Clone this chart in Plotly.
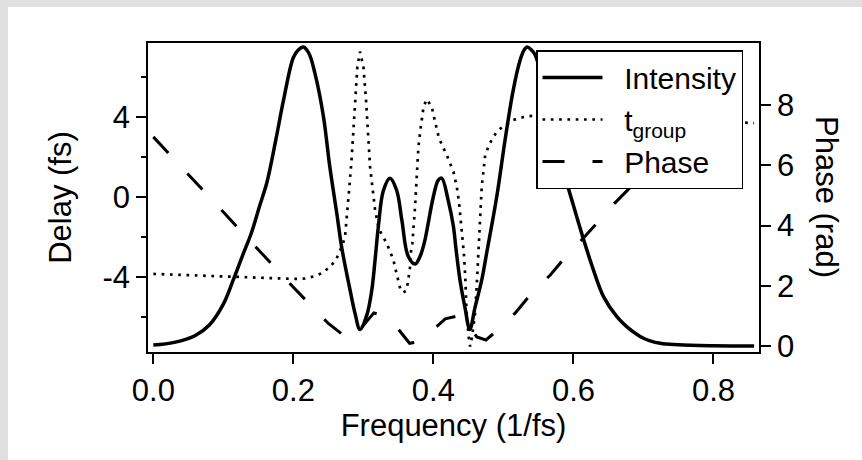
import plotly.graph_objects as go

# Spectral intensity (normalised), sampled along frequency (1/fs)
intensity_freq = [0.000, 0.030, 0.060, 0.080, 0.100, 0.114, 0.127, 0.140, 0.152, 0.162,
                  0.175, 0.186, 0.200, 0.207, 0.2143, 0.222, 0.231, 0.243, 0.252, 0.262,
                  0.269, 0.281, 0.288, 0.2952, 0.305, 0.312, 0.3167, 0.3214, 0.3286, 0.338,
                  0.3476, 0.355, 0.364, 0.374, 0.381, 0.387, 0.400, 0.407, 0.412, 0.421,
                  0.4286, 0.432, 0.438, 0.445, 0.452, 0.4595, 0.469, 0.476, 0.4905, 0.5024,
                  0.514, 0.524, 0.529, 0.534, 0.540, 0.545, 0.556, 0.567, 0.578, 0.590,
                  0.600, 0.612, 0.6286, 0.643, 0.662, 0.676, 0.700, 0.724, 0.750, 0.800,
                  0.858]
intensity_val = [0.003, 0.012, 0.035, 0.070, 0.140, 0.220, 0.300, 0.378, 0.470, 0.545,
                 0.690, 0.823, 0.965, 0.990, 1.000, 0.980, 0.910, 0.767, 0.600, 0.444,
                 0.330, 0.187, 0.110, 0.055, 0.104, 0.187, 0.288, 0.400, 0.520, 0.561,
                 0.520, 0.420, 0.300, 0.274, 0.300, 0.345, 0.500, 0.555, 0.561, 0.488,
                 0.400, 0.330, 0.220, 0.130, 0.055, 0.130, 0.220, 0.310, 0.500, 0.690,
                 0.856, 0.957, 0.988, 1.000, 0.990, 0.975, 0.890, 0.770, 0.660, 0.550,
                 0.470, 0.375, 0.254, 0.165, 0.098, 0.065, 0.026, 0.009, 0.004, 0.001,
                 0.000]

# Group delay (fs)
tgroup_freq = [0.000, 0.050, 0.100, 0.150, 0.200, 0.217, 0.230, 0.2405, 0.2524, 0.261,
               0.2667, 0.2705, 0.2738, 0.2762, 0.280, 0.2834, 0.2867, 0.2896, 0.2914, 0.2952,
               0.300, 0.3038, 0.3071, 0.3095, 0.3134, 0.3167, 0.3214, 0.3262, 0.3324, 0.338,
               0.343, 0.345, 0.348, 0.350, 0.3534, 0.357, 0.361, 0.3634, 0.3653, 0.3667,
               0.368, 0.370, 0.3738, 0.3762, 0.3786, 0.382, 0.386, 0.3905, 0.3976, 0.4024,
               0.408, 0.419, 0.4286, 0.4334, 0.4367, 0.439, 0.4414, 0.4435, 0.4455, 0.4476,
               0.4505, 0.4524, 0.455, 0.4595, 0.4625, 0.4643, 0.4657, 0.4667, 0.4676, 0.469,
               0.4714, 0.474, 0.4786, 0.483, 0.4914, 0.5134, 0.525, 0.5357, 0.560, 0.600,
               0.650, 0.700, 0.750, 0.800, 0.858]
tgroup_val = [-3.83, -3.90, -3.96, -4.03, -4.08, -4.06, -3.95, -3.80, -3.48, -3.12,
              -2.70, -2.35, -1.98, -0.85, 0.51, 2.00, 3.67, 5.33, 6.49, 7.24,
              6.49, 4.83, 3.17, 1.51, 0.35, -0.65, -1.48, -1.89, -2.23, -2.72,
              -3.14, -3.47, -3.88, -4.30, -4.67, -4.75, -4.67, -4.30, -3.88, -3.47,
              -2.72, -2.30, -0.48, 1.18, 2.50, 3.50, 4.50, 4.87, 4.50, 3.75,
              2.92, 2.09, 1.26, 0.51, -0.31, -1.15, -1.98, -2.80, -4.00, -5.90,
              -7.00, -7.45, -7.00, -5.80, -4.00, -2.64, -1.98, -1.15, -0.31, 0.51,
              1.26, 2.09, 2.50, 2.84, 3.30, 3.83, 3.95, 4.03, 4.06, 4.05,
              4.00, 3.93, 3.86, 3.78, 3.68]

# Spectral phase (rad)
phase_freq = [0.000, 0.050, 0.100, 0.150, 0.200, 0.250, 0.280, 0.295, 0.315, 0.330,
              0.350, 0.366, 0.380, 0.395, 0.417, 0.435, 0.448, 0.462, 0.475, 0.493,
              0.517, 0.542, 0.567, 0.590, 0.614, 0.640, 0.659, 0.691, 0.750, 0.800,
              0.858]
phase_val = [6.95, 5.70, 4.45, 3.20, 1.95, 0.75, 0.20, 0.55, 1.10, 1.00,
             0.55, 0.09, 0.15, 0.45, 0.90, 1.00, 0.75, 0.30, 0.20, 0.55,
             1.10, 1.80, 2.36, 3.00, 3.58, 4.25, 4.75, 5.50, 7.00, 8.20,
             9.45]

x_ticks = [0.0, 0.2, 0.4, 0.6, 0.8]
x_tick_text = ["0.0", "0.2", "0.4", "0.6", "0.8"]
delay_ticks = [-4, 0, 4]
delay_tick_text = ["-4", "0", "4"]
delay_minor = [-6, -2, 2, 6]
phase_ticks = [0, 2, 4, 6, 8]

FONT = "Arial, Liberation Sans, sans-serif"
FS = 31
LEGEND_FS = 30
W, H = 862, 460
ML, MR, MT, MB = 148, 103, 43, 108
PW, PH = W - ML - MR, H - MT - MB
NBSP = "\u00a0"


def px_x(p):
    return (p - ML) / PW


def px_y(p):
    return (H - MB - p) / PH


fig = go.Figure()
fig.add_trace(go.Scatter(
    x=intensity_freq, y=intensity_val, name=NBSP * 2 + "Intensity", yaxis="y3",
    mode="lines", line=dict(color="black", width=3.5, shape="spline", smoothing=1.0),
))
fig.add_trace(go.Scatter(
    x=tgroup_freq, y=tgroup_val, name=NBSP * 2 + "t<sub>group</sub>", yaxis="y",
    mode="lines", line=dict(color="black", width=2.7, dash="2.7px,5.6px"),
))
fig.add_trace(go.Scatter(
    x=phase_freq, y=phase_val, name=NBSP * 2 + "Phase", yaxis="y2",
    mode="lines", line=dict(color="black", width=3, dash="22px,28px"),
))

axis_common = dict(
    showgrid=False, zeroline=False, showline=True, linecolor="black", linewidth=1.5,
    ticks="outside", ticklen=10, tickwidth=1.5, tickcolor="black",
    tickfont=dict(family=FONT, size=FS, color="black"),
)

fig.update_layout(
    width=W, height=H,
    margin=dict(l=ML, r=MR, t=MT, b=MB, pad=0),
    paper_bgcolor="#e0e0e0", plot_bgcolor="white",
    font=dict(family=FONT, size=FS, color="black"),
    showlegend=True,
    legend=dict(
        x=px_x(536), y=px_y(50), xanchor="left", yanchor="top",
        bgcolor="white", bordercolor="black", borderwidth=1.5,
        font=dict(family=FONT, size=LEGEND_FS, color="black"),
        itemwidth=60, tracegroupgap=0,
    ),
    xaxis=dict(
        range=[-0.0076, 0.865], tickvals=x_ticks, ticktext=x_tick_text,
        mirror=True,
        title=dict(text="Frequency (1/fs)", font=dict(family=FONT, size=FS), standoff=6),
        **axis_common,
    ),
    yaxis=dict(
        range=[-7.72, 7.67], tickvals=delay_ticks, ticktext=delay_tick_text,
        minor=dict(tickvals=delay_minor, ticks="outside", ticklen=5, tickwidth=1.5, tickcolor="black"),
        title=dict(text="Delay (fs)", font=dict(family=FONT, size=FS), standoff=22),
        **axis_common,
    ),
    yaxis2=dict(
        range=[-0.2, 10.07], tickvals=phase_ticks, overlaying="y", side="right",
        **axis_common,
    ),
    yaxis3=dict(range=[-0.0201, 1.0134], overlaying="y", visible=False),
    shapes=[dict(
        type="rect", xref="paper", yref="paper",
        x0=px_x(8), x1=px_x(W + 2), y0=px_y(H + 2), y1=px_y(7),
        fillcolor="white", line=dict(width=0), layer="below",
    )],
    annotations=[dict(
        text="Phase (rad)", xref="paper", yref="paper",
        x=px_x(827), y=px_y(197), textangle=90, showarrow=False,
        font=dict(family=FONT, size=FS, color="black"),
        xanchor="center", yanchor="middle",
    )],
)

fig.write_html("out.html")
